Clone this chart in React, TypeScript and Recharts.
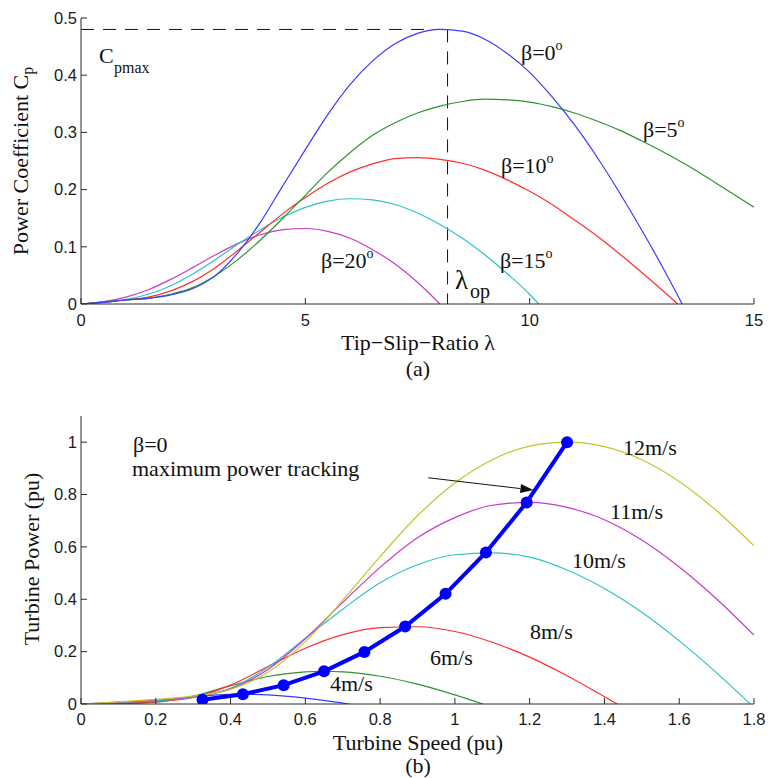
import React from 'react';
import { LineChart, Line, XAxis, YAxis, ReferenceLine } from 'recharts';

// ---------- Panel (a): power coefficient vs tip speed ratio ----------
const lambdaB0 = [0,0.5,1,1.5,2,2.5,3,3.5,4,4.5,5,5.5,6,6.5,7,7.5,8,8.5,9,9.5,10,10.5,11,11.5,12,12.5,13,13.4];
const cpB0 = [0,0.003,0.007,0.01,0.016,0.027,0.05,0.09,0.143,0.207,0.27,0.331,0.384,0.425,0.455,0.473,0.48,0.477,0.463,0.438,0.405,0.362,0.313,0.257,0.195,0.129,0.059,0];

const lambdaB5 = [0,0.5,1,1.5,2,2.5,3,3.5,4,4.5,5,5.5,6,6.5,7,7.5,8,8.5,9,9.5,10,10.5,11,11.5,12,12.5,13,13.5,14,14.5,15];
const cpB5 = [0,0.003,0.007,0.01,0.017,0.029,0.05,0.078,0.112,0.15,0.19,0.23,0.265,0.295,0.317,0.334,0.346,0.354,0.358,0.357,0.353,0.345,0.334,0.32,0.304,0.285,0.265,0.243,0.219,0.194,0.169];

const lambdaB10 = [0,0.5,1,1.5,2,2.5,3,3.5,4,4.5,5,5.5,6,6.5,7,7.5,8,8.5,9,9.5,10,10.5,11,11.5,12,12.5,13,13.3];
const cpB10 = [0,0.0035,0.007,0.012,0.023,0.04,0.064,0.094,0.126,0.158,0.186,0.211,0.231,0.245,0.254,0.256,0.253,0.246,0.234,0.217,0.197,0.174,0.147,0.119,0.088,0.055,0.021,0];

const lambdaB15 = [0,0.5,1,1.5,2,2.5,3,3.5,4,4.5,5,5.5,6,6.5,7,7.5,8,8.5,9,9.5,10,10.2];
const cpB15 = [0,0.0036,0.008,0.017,0.032,0.053,0.078,0.105,0.13,0.152,0.169,0.18,0.184,0.182,0.174,0.159,0.139,0.115,0.086,0.053,0.017,0];

const lambdaB20 = [0,0.5,1,1.5,2,2.5,3,3.5,4,4.5,5,5.5,6,6.5,7,7.5,8];
const cpB20 = [0,0.004,0.012,0.025,0.043,0.064,0.086,0.106,0.121,0.13,0.132,0.127,0.115,0.095,0.07,0.038,0];

const lambdaTicks = [0, 5, 10, 15];
const cpTicks = [0, 0.1, 0.2, 0.3, 0.4, 0.5];
const cpMax = 0.48;
const lambdaOpt = 8.17;

// ---------- Panel (b): turbine power vs turbine speed ----------
const speedGrid = [0,0.1,0.2,0.3,0.4,0.5,0.6,0.7,0.8,0.9,1.0,1.1,1.2,1.3,1.4,1.5,1.6,1.7,1.8];
const p12 = [0,0.008,0.018,0.03,0.056,0.121,0.238,0.396,0.563,0.719,0.844,0.933,0.985,1.0,0.983,0.933,0.85,0.738,0.604];
const p11 = [0,0.007,0.015,0.027,0.058,0.132,0.249,0.388,0.522,0.635,0.712,0.759,0.77,0.751,0.704,0.626,0.523,0.401,0.263];
const speed10 = [0,0.1,0.2,0.3,0.4,0.5,0.6,0.7,0.8,0.9,1.0,1.1,1.2,1.3,1.4,1.5,1.6,1.7,1.79];
const p10 = [0,0.006,0.012,0.025,0.06,0.14,0.251,0.362,0.463,0.532,0.57,0.577,0.561,0.512,0.441,0.35,0.241,0.119,0];
const speed8 = [0,0.1,0.2,0.3,0.4,0.5,0.6,0.7,0.8,0.9,1.0,1.1,1.2,1.3,1.4,1.434];
const p8 = [0,0.004,0.009,0.025,0.072,0.143,0.213,0.265,0.292,0.295,0.277,0.236,0.179,0.108,0.028,0];
const speed6 = [0,0.1,0.2,0.3,0.4,0.5,0.6,0.65,0.7,0.8,0.9,1.0,1.075];
const p6 = [0,0.002,0.007,0.03,0.07,0.105,0.123,0.125,0.123,0.106,0.076,0.035,0];
const speed4 = [0,0.1,0.2,0.3,0.4,0.433,0.5,0.6,0.7,0.717];
const p4 = [0,0.001,0.009,0.027,0.0365,0.037,0.0346,0.0224,0.0035,0];

const trackSpeed = [0.325,0.433,0.542,0.65,0.758,0.867,0.975,1.083,1.192,1.3];
const trackPower = [0.016,0.037,0.072,0.125,0.199,0.296,0.421,0.579,0.77,1.0];

const speedTicks = [0,0.2,0.4,0.6,0.8,1,1.2,1.4,1.6,1.8];
const powerTicks = [0,0.2,0.4,0.6,0.8,1];
const arrowFrom = { x: 0.929, y: 0.864 };
const arrowTo = { x: 1.21, y: 0.817 };

const zip = (xs: number[], ys: number[]) => xs.map((x, i) => ({ x, y: ys[i] }));

const SERIF = '"Liberation Serif", "Times New Roman", serif';
const SANS = '"Liberation Sans", Arial, Helvetica, sans-serif';
const AX = '#2a2a2a';

const C_BLUE = '#3a3aff';
const C_GREEN = '#2f922f';
const C_RED = '#ff3030';
const C_CYAN = '#2ec4c4';
const C_MAG = '#c83ac8';
const C_YEL = '#c4c42e';

const tickStyle = { fill: '#1a1a1a', fontSize: 16.5, fontFamily: SANS };

function ArrowShape(props: any) {
  const { x1, y1, x2, y2 } = props;
  const ang = Math.atan2(y2 - y1, x2 - x1);
  const L = 13, Wd = 4.5;
  const bx = x2 - L * Math.cos(ang), by = y2 - L * Math.sin(ang);
  const px = -Math.sin(ang) * Wd, py = Math.cos(ang) * Wd;
  return (
    <g>
      <line x1={x1} y1={y1} x2={bx} y2={by} stroke="#111" strokeWidth={1} />
      <polygon points={`${x2},${y2} ${bx + px},${by + py} ${bx - px},${by - py}`} fill="#111" />
    </g>
  );
}

function Beta({ x, y, v }: { x: number; y: number; v: string }) {
  return (
    <text x={x} y={y} fontFamily={SERIF} fontSize={22} fill="#111">
      β={v}
      <tspan fontSize={14} dy={-10}>o</tspan>
    </text>
  );
}

function Lbl({ x, y, t, size = 22 }: { x: number; y: number; t: string; size?: number }) {
  return (
    <text x={x} y={y} fontFamily={SERIF} fontSize={size} fill="#111">{t}</text>
  );
}

export default function App() {
  const lineCommon = { type: 'monotone' as const, dot: false, isAnimationActive: false, strokeWidth: 1.2, dataKey: 'y' };
  return (
    <div style={{ position: 'absolute', left: 0, top: 0, width: 768, height: 778, background: '#fff', overflow: 'hidden' }}>
      <div style={{ position: 'absolute', left: 0, top: 0 }}>
        <LineChart width={768} height={390} margin={{ top: 18, right: 14, bottom: 56, left: 31 }}>
          <XAxis type="number" dataKey="x" domain={[0, 15]} ticks={lambdaTicks} orientation="bottom" height={30}
            tickSize={-6} tickMargin={16} stroke={AX} tick={tickStyle} allowDataOverflow />
          <XAxis xAxisId="top" type="number" dataKey="x" domain={[0, 15]} ticks={lambdaTicks} orientation="top" height={0}
            tickSize={-6} tickFormatter={() => ''} stroke={AX} allowDataOverflow />
          <YAxis type="number" domain={[0, 0.5]} ticks={cpTicks} width={50} tickSize={-6} tickMargin={10}
            stroke={AX} tick={tickStyle} allowDataOverflow />
          <YAxis yAxisId="right" orientation="right" type="number" domain={[0, 0.5]} ticks={cpTicks} width={0}
            tickSize={-6} tickFormatter={() => ''} stroke={AX} allowDataOverflow />
          <ReferenceLine segment={[{ x: 0, y: cpMax }, { x: lambdaOpt, y: cpMax }]} stroke="#111" strokeDasharray="13 9" strokeWidth={1} />
          <ReferenceLine segment={[{ x: lambdaOpt, y: cpMax }, { x: lambdaOpt, y: 0 }]} stroke="#111" strokeDasharray="13 9" strokeWidth={1} />
          <Line {...lineCommon} data={zip(lambdaB20, cpB20)} stroke={C_MAG} />
          <Line {...lineCommon} data={zip(lambdaB15, cpB15)} stroke={C_CYAN} />
          <Line {...lineCommon} data={zip(lambdaB10, cpB10)} stroke={C_RED} />
          <Line {...lineCommon} data={zip(lambdaB5, cpB5)} stroke={C_GREEN} />
          <Line {...lineCommon} data={zip(lambdaB0, cpB0)} stroke={C_BLUE} />
        </LineChart>
      </div>
      <div style={{ position: 'absolute', left: 0, top: 390 }}>
        <LineChart width={768} height={388} margin={{ top: 26, right: 14, bottom: 44, left: 31 }}>
          <XAxis type="number" dataKey="x" domain={[0, 1.8]} ticks={speedTicks} orientation="bottom" height={30}
            tickSize={-6} tickMargin={15} stroke={AX} tick={tickStyle} allowDataOverflow />
          <XAxis xAxisId="top" type="number" dataKey="x" domain={[0, 1.8]} ticks={speedTicks} orientation="top" height={0}
            tickSize={-6} tickFormatter={() => ''} stroke={AX} allowDataOverflow />
          <YAxis type="number" domain={[0, 1.1]} ticks={powerTicks} width={50} tickSize={-6} tickMargin={10}
            stroke={AX} tick={tickStyle} allowDataOverflow />
          <YAxis yAxisId="right" orientation="right" type="number" domain={[0, 1.1]} ticks={powerTicks} width={0}
            tickSize={-6} tickFormatter={() => ''} stroke={AX} allowDataOverflow />
          <Line {...lineCommon} data={zip(speed4, p4)} stroke={C_BLUE} />
          <Line {...lineCommon} data={zip(speed6, p6)} stroke={C_GREEN} />
          <Line {...lineCommon} data={zip(speed8, p8)} stroke={C_RED} />
          <Line {...lineCommon} data={zip(speed10, p10)} stroke={C_CYAN} />
          <Line {...lineCommon} data={zip(speedGrid, p11)} stroke={C_MAG} />
          <Line {...lineCommon} data={zip(speedGrid, p12)} stroke={C_YEL} />
          <Line type="linear" dataKey="y" data={zip(trackSpeed, trackPower)} stroke="#0000ff" strokeWidth={4}
            dot={{ r: 6, fill: '#0000ff', stroke: '#0000ff', strokeWidth: 0 }} isAnimationActive={false} />
          <ReferenceLine segment={[arrowFrom, arrowTo]} shape={ArrowShape} />
        </LineChart>
      </div>
      <svg width={768} height={778} style={{ position: 'absolute', left: 0, top: 0, pointerEvents: 'none' }}>
        {/* panel (a) texts */}
        <text transform="translate(28,161) rotate(-90)" textAnchor="middle" fontFamily={SERIF} fontSize={22} fill="#111">
          Power Coefficient C<tspan fontSize={16} dy={5}>p</tspan>
        </text>
        <text x={418} y={350} textAnchor="middle" fontFamily={SERIF} fontSize={22} fill="#111">Tip−Slip−Ratio λ</text>
        <text x={418} y={376} textAnchor="middle" fontFamily={SERIF} fontSize={22} fill="#111">(a)</text>
        <Lbl x={99} y={63} t="C" />
        <Lbl x={114} y={73} t="pmax" size={16} />
        <Beta x={521} y={60} v="0" />
        <Beta x={643} y={137} v="5" />
        <Beta x={501} y={173} v="10" />
        <Beta x={500} y={268} v="15" />
        <Beta x={321} y={268} v="20" />
        <Lbl x={455} y={289} t="λ" size={27} />
        <Lbl x={470} y={298} t="op" size={20} />
        {/* panel (b) texts */}
        <text transform="translate(39,559) rotate(-90)" textAnchor="middle" fontFamily={SERIF} fontSize={22} fill="#111">Turbine Power (pu)</text>
        <text x={418} y={750} textAnchor="middle" fontFamily={SERIF} fontSize={22} fill="#111">Turbine Speed (pu)</text>
        <text x={418} y={773} textAnchor="middle" fontFamily={SERIF} fontSize={22} fill="#111">(b)</text>
        <Lbl x={133} y={452} t="β=0" />
        <Lbl x={132} y={476} t="maximum power tracking" />
        <Lbl x={623} y={455} t="12m/s" />
        <Lbl x={610} y={519} t="11m/s" />
        <Lbl x={572} y={568} t="10m/s" />
        <Lbl x={530} y={639} t="8m/s" />
        <Lbl x={430} y={665} t="6m/s" />
        <Lbl x={330} y={691} t="4m/s" />
      </svg>
    </div>
  );
}
